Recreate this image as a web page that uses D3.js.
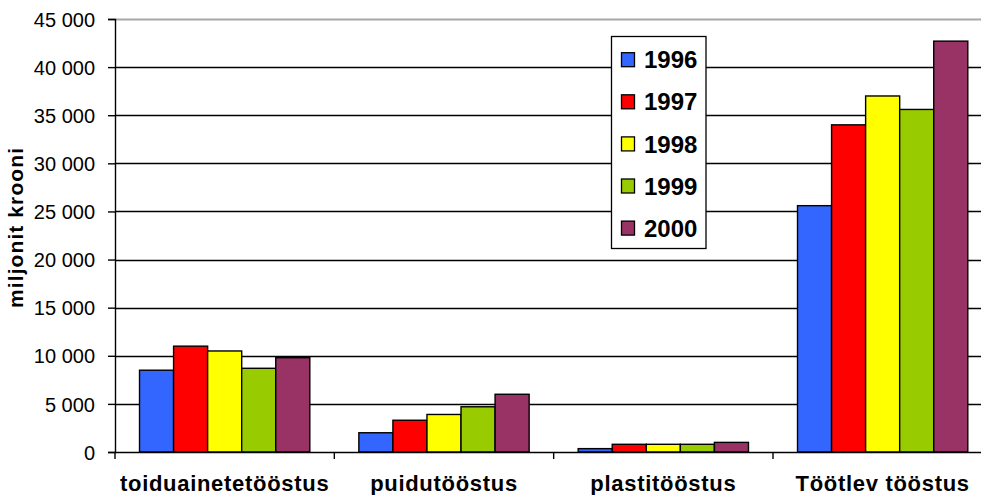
<!DOCTYPE html>
<html>
<head>
<meta charset="utf-8">
<script src="https://cdn.jsdelivr.net/npm/d3@7"></script>
<style>
html,body{margin:0;padding:0;background:#fff;}
svg{display:block;font-family:"Liberation Sans",Arial,sans-serif;}
</style>
</head>
<body>
<svg id="chart" width="981" height="495"></svg>
<script>
const categories = ["toiduainetetööstus", "puidutööstus", "plastitööstus", "Töötlev tööstus"];
const years = ["1996", "1997", "1998", "1999", "2000"];
const v1996 = [8500, 2000, 350, 25600];
const v1997 = [11000, 3300, 800, 34000];
const v1998 = [10500, 3900, 800, 37000];
const v1999 = [8700, 4700, 800, 35600];
const v2000 = [9800, 6000, 1000, 42700];
const yTicks = [0, 5000, 10000, 15000, 20000, 25000, 30000, 35000, 40000, 45000];
const colors = ["#3366FF", "#FF0000", "#FFFF00", "#99CC00", "#993366"];
const yTitle = "miljonit krooni";

const series = [v1996, v1997, v1998, v1999, v2000];
const svg = d3.select("#chart");

const plotLeft = 115, plotTop = 19, plotBottom = 452, band = 219.33;
const x = d3.scaleBand().domain(categories).range([plotLeft, plotLeft + band * categories.length]).padding(0);
const xi = d3.scaleBand().domain(years).range([0, x.bandwidth()]).paddingInner(0).paddingOuter(0.72);
const y = d3.scaleLinear().domain([0, 45000]).range([plotBottom, plotTop]);
const fmt = v => d3.format(",")(v).replace(/,/g, " ");

// gridlines
svg.append("g").selectAll("line").data(yTicks.filter(t => t > 0)).join("line")
  .attr("x1", plotLeft).attr("x2", 981)
  .attr("y1", d => Math.round(y(d)) + 0.5).attr("y2", d => Math.round(y(d)) + 0.5)
  .attr("stroke", d => d === 45000 ? "#a8a8a8" : "#000")
  .attr("stroke-width", d => d === 45000 ? 2 : 1.4);

// bars
const rows = categories.map((c, i) => years.map((yr, j) => ({cat: c, year: yr, value: series[j][i], color: colors[j]})));
svg.append("g").selectAll("g").data(rows).join("g")
  .attr("transform", d => `translate(${x(d[0].cat)},0)`)
  .selectAll("rect").data(d => d).join("rect")
  .attr("x", d => xi(d.year))
  .attr("width", xi.bandwidth())
  .attr("y", d => y(d.value))
  .attr("height", d => y(0) - y(d.value))
  .attr("fill", d => d.color)
  .attr("stroke", "#000")
  .attr("stroke-width", 1.4);

// y axis
const yAxis = svg.append("g").attr("transform", `translate(${plotLeft},0)`)
  .call(d3.axisLeft(y).tickValues(yTicks).tickSize(7).tickPadding(13).tickFormat(fmt));
yAxis.select(".domain").attr("stroke", "#000").attr("stroke-width", 1.4);
yAxis.selectAll(".tick line").attr("stroke", "#000").attr("stroke-width", 1.4);
yAxis.selectAll(".tick text").attr("font-size", 20).attr("fill", "#000")
  .attr("font-family", "'Liberation Sans',Arial,sans-serif").attr("dy", "0.36em");

// x axis
const xAxis = svg.append("g").attr("transform", `translate(0,${plotBottom})`)
  .call(d3.axisBottom(x).tickSize(0).tickPadding(23));
xAxis.select(".domain").attr("stroke", "#000").attr("stroke-width", 1.4);
xAxis.selectAll(".tick text").attr("font-size", 22).attr("font-weight", "bold").attr("fill", "#000")
  .attr("letter-spacing", "0.7px")
  .attr("font-family", "'Liberation Sans',Arial,sans-serif");
// category boundary ticks
const bounds = categories.map(c => x(c));
svg.append("g").selectAll("line").data(bounds).join("line")
  .attr("x1", d => d).attr("x2", d => d)
  .attr("y1", plotBottom).attr("y2", plotBottom + 7)
  .attr("stroke", "#000").attr("stroke-width", 1.4);

// y title
svg.append("text")
  .attr("transform", "translate(23,228) rotate(-90)")
  .attr("text-anchor", "middle")
  .attr("font-size", 21).attr("font-weight", "bold")
  .attr("textLength", 160).attr("lengthAdjust", "spacing")
  .text(yTitle);

// legend
const lg = svg.append("g");
lg.append("rect").attr("x", 611.5).attr("y", 36.5).attr("width", 94.5).attr("height", 212)
  .attr("fill", "#fff").attr("stroke", "#000").attr("stroke-width", 1.3);
const items = lg.selectAll("g.item").data(years).join("g").attr("class", "item")
  .attr("transform", (d, i) => `translate(0,${59.7 + i * 42.1})`);
items.append("rect").attr("x", 621.5).attr("y", -7).attr("width", 13).attr("height", 14)
  .attr("fill", (d, i) => colors[i]).attr("stroke", "#000").attr("stroke-width", 1.3);
items.append("text").attr("x", 644).attr("y", 0).attr("dy", "0.36em")
  .attr("font-size", 24).attr("font-weight", "bold").text(d => d);
</script>
</body>
</html>
